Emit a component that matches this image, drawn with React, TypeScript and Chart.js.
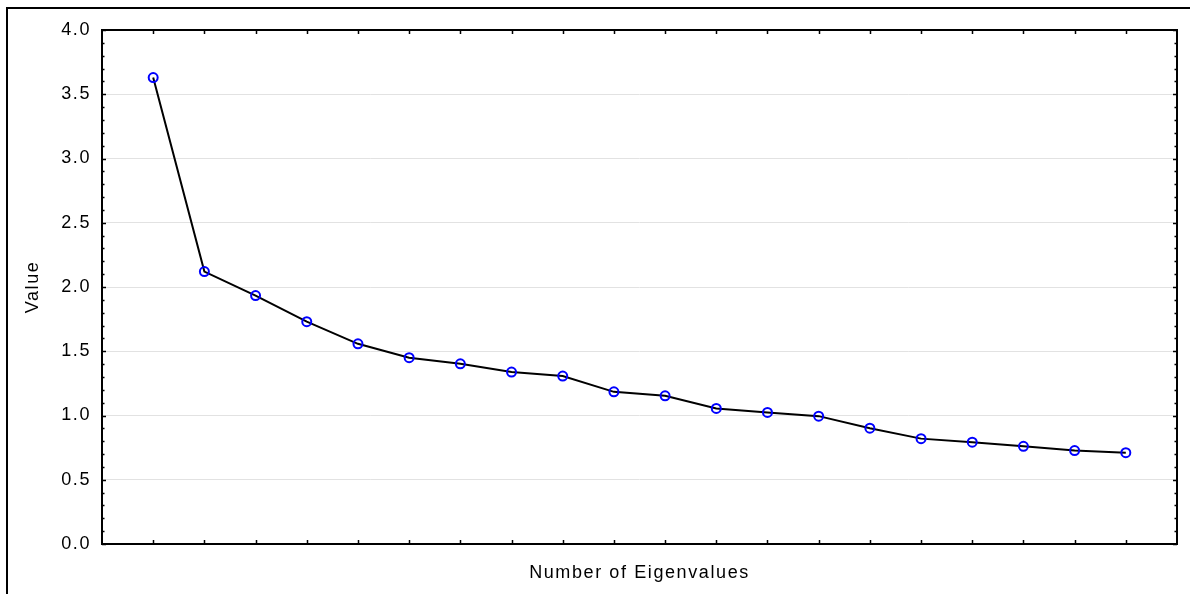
import React, { useEffect, useRef } from 'react';
import { Chart, registerables } from 'chart.js';

Chart.register(...registerables);

const eigenNumbers = [1, 2, 3, 4, 5, 6, 7, 8, 9, 10, 11, 12, 13, 14, 15, 16, 17, 18, 19, 20];
const eigenValues = [3.63, 2.12, 1.933, 1.73, 1.558, 1.45, 1.402, 1.338, 1.307, 1.184, 1.153, 1.055, 1.024, 0.995, 0.901, 0.82, 0.792, 0.76, 0.727, 0.711];
const yTickValues = [0, 0.5, 1.0, 1.5, 2.0, 2.5, 3.0, 3.5, 4.0];
const xTitle = 'Number of Eigenvalues';
const yTitle = 'Value';

const FONT_FAMILY = 'Arial, "Liberation Sans", sans-serif';

const framePlugin = {
  id: 'frameAndTicks',
  beforeDraw(chart: any) {
    const ctx = chart.ctx;
    ctx.save();
    ctx.fillStyle = '#ffffff';
    ctx.fillRect(0, 0, chart.width, chart.height);
    ctx.restore();
    try {
      ctx.letterSpacing = '1.6px';
    } catch (e) {
      /* ignore */
    }
  },
  afterDraw(chart: any) {
    const { ctx, chartArea: a, scales } = chart;
    const x = scales.x;
    const y = scales.y;
    ctx.save();
    // outer frame
    ctx.fillStyle = '#000';
    ctx.fillRect(6, 7, 2, chart.height);
    ctx.fillRect(6, 7, chart.width, 2);
    // plot border
    ctx.strokeStyle = '#000';
    ctx.lineWidth = 2;
    ctx.strokeRect(a.left, a.top, a.right - a.left, a.bottom - a.top);
    // x ticks (inward, bottom and top)
    ctx.lineWidth = 1.5;
    ctx.beginPath();
    for (const n of eigenNumbers) {
      const px = Math.round(x.getPixelForValue(n)) + 0.5;
      ctx.moveTo(px, a.bottom);
      ctx.lineTo(px, a.bottom - 4);
      ctx.moveTo(px, a.top);
      ctx.lineTo(px, a.top + 4);
    }
    // y ticks (major + minor, left and right)
    const maxV = yTickValues[yTickValues.length - 1];
    const steps = Math.round(maxV * 10);
    for (let i = 0; i <= steps; i++) {
      const py = Math.round(y.getPixelForValue(i / 10)) + 0.5;
      const len = i % 5 === 0 ? 4 : 2.5;
      ctx.moveTo(a.left, py);
      ctx.lineTo(a.left + len, py);
      ctx.moveTo(a.right, py);
      ctx.lineTo(a.right - len, py);
    }
    ctx.stroke();
    ctx.restore();
  },
};

export default function App() {
  const ref = useRef<HTMLCanvasElement>(null);

  useEffect(() => {
    document.body.style.margin = '0';
    const canvas = ref.current;
    if (!canvas) return;
    const font = { family: FONT_FAMILY, size: 18 };
    const chart = new Chart(canvas, {
      type: 'line',
      data: {
        datasets: [
          {
            data: eigenNumbers.map((n, i) => ({ x: n, y: eigenValues[i] })),
            borderColor: '#000000',
            borderWidth: 2,
            pointRadius: 4.5,
            pointBorderColor: '#0000ff',
            pointBackgroundColor: 'rgba(0,0,0,0)',
            pointBorderWidth: 2,
            tension: 0,
          },
        ],
      },
      options: {
        responsive: false,
        animation: false,
        events: [],
        layout: { padding: { top: 30, right: 13, left: 0, bottom: 0 } },
        plugins: {
          legend: { display: false },
          tooltip: { enabled: false },
        },
        scales: {
          x: {
            type: 'linear',
            min: 0,
            max: eigenNumbers.length + 1,
            grid: { display: false },
            border: { display: false },
            ticks: { display: false },
            title: {
              display: true,
              text: xTitle,
              color: '#000',
              font,
              padding: { top: 0, bottom: 10 },
            },
            afterFit(s: any) {
              s.height = 50;
            },
          },
          y: {
            type: 'linear',
            min: yTickValues[0],
            max: yTickValues[yTickValues.length - 1],
            afterBuildTicks(s: any) {
              s.ticks = yTickValues.map((v) => ({ value: v }));
            },
            ticks: {
              color: '#000',
              font,
              padding: 11,
              callback: (v: any) => Number(v).toFixed(1),
            },
            grid: { color: '#e2e2e2', lineWidth: 1, drawTicks: false },
            border: { display: false },
            title: {
              display: true,
              text: yTitle,
              color: '#000',
              font,
              padding: { top: 22, bottom: 0 },
            },
            afterFit(s: any) {
              s.width = 102;
            },
          },
        },
      },
      plugins: [framePlugin],
    } as any);
    return () => chart.destroy();
  }, []);

  return (
    <div style={{ width: 1190, height: 594 }}>
      <canvas ref={ref} width={1190} height={594} style={{ display: 'block' }} />
    </div>
  );
}
